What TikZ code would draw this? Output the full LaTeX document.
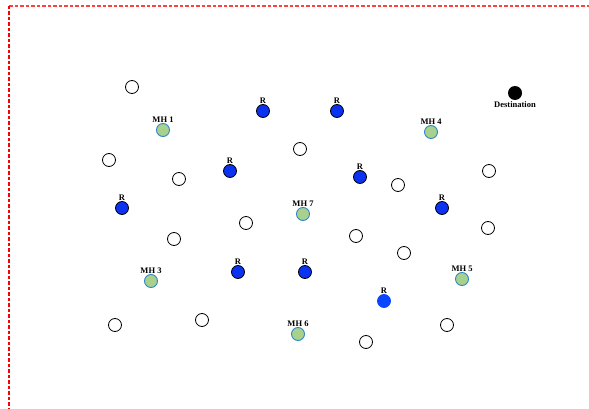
\documentclass[tikz,border=0pt]{standalone}
\usepackage{fontspec}
\setmainfont{Liberation Serif}
\definecolor{rblue}{HTML}{0A32F0}
\definecolor{rbright}{HTML}{0A46FF}
\definecolor{mhgreen}{HTML}{A9D18E}
\definecolor{mhedge}{HTML}{2E86C8}
\begin{document}
\begin{tikzpicture}[x=1pt,y=-1pt,
  wnode/.style={circle,draw=black,fill=white,line width=0.8pt,minimum size=13pt,inner sep=0pt},
  rnode/.style={circle,draw=black,fill=rblue,line width=0.8pt,minimum size=13pt,inner sep=0pt},
  rbright/.style={circle,draw=rbright,fill=rbright,line width=0.8pt,minimum size=13pt,inner sep=0pt},
  mhnode/.style={circle,draw=mhedge,fill=mhgreen,line width=0.9pt,minimum size=13pt,inner sep=0pt},
  dnode/.style={circle,fill=black,minimum size=14pt,inner sep=0pt},
  lbl/.style={font=\fontsize{8.5}{9}\selectfont\bfseries,inner sep=0pt},
  redline/.style={red,dash pattern=on 3.5pt off 2pt,line width=1.2pt}]
\useasboundingbox (0,0) rectangle (589,409);
\coordinate (c0) at (9,6);
\coordinate (c1) at (589,6);
\coordinate (c2) at (9,409);
\draw[redline,red!75] (c0) -- (c1);
\draw[redline] (c0) -- (c2);
% white nodes
\foreach \n/\x/\y in {w1/132/87,w2/109/160,w3/179/179,w4/300/149,w5/398/185,w6/489/171,w7/246/223,w8/174/239,w9/356/236,w10/404/253,w11/488/228,w12/115/325,w13/202/320,w14/366/342,w15/447/325}
  \node[wnode] (\n) at (\x,\y) {};
% R nodes
\foreach \n/\x/\y in {r1/263/111,r2/337/111,r3/230/171,r4/360/177,r5/122/208,r6/442/208,r7/238/272,r8/305/272}{
  \node[rnode] (\n) at (\x,\y) {};
  \node[lbl,anchor=south] (\n l) at (\x,\y-7) {R};}
\node[rbright] (r9) at (384,301) {};
\node[lbl,anchor=south] (r9l) at (384,294) {R};
% MH nodes
\foreach \n/\x/\y/\t in {m1/163/130/MH 1,m4/431/132/MH 4,m7/303/214/MH 7,m3/151/281/MH 3,m5/462/279/MH 5,m6/298/334/MH 6}{
  \node[mhnode] (\n) at (\x,\y) {};
  \node[lbl,anchor=south] (\n l) at (\x,\y-7) {\t};}
% destination
\node[dnode] (d) at (515,93) {};
\node[lbl,anchor=north] (dl) at (515,101.5) {Destination};
\end{tikzpicture}
\end{document}
